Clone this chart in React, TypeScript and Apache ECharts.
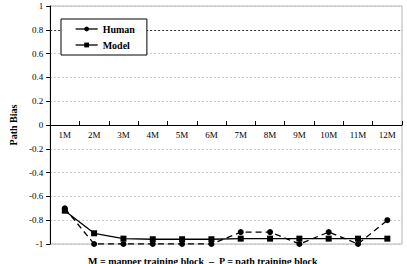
import React, { useEffect, useRef } from "react";
import * as echarts from "echarts";

const categories = ["1M", "2M", "3M", "4M", "5M", "6M", "7M", "8M", "9M", "10M", "11M", "12M"];
const humanValues = [-0.7, -1.0, -1.0, -1.0, -1.0, -1.0, -0.9, -0.9, -1.0, -0.9, -1.0, -0.8];
const modelValues = [-0.72, -0.91, -0.955, -0.96, -0.96, -0.96, -0.955, -0.955, -0.955, -0.955, -0.955, -0.955];
const referenceLine = 0.8;
const footnote = "M = mapper training block  \u2013  P = path training block";

const FONT = "Liberation Serif, Times New Roman, serif";
const PLOT_TOP = 6;
const PLOT_BOTTOM = 20;
const PLOT_H = 264 - PLOT_TOP - PLOT_BOTTOM;

export default function App() {
  const ref = useRef<HTMLDivElement>(null);
  useEffect(() => {
    if (!ref.current) return;
    const chart = echarts.init(ref.current, null, { renderer: "svg" });
    chart.setOption({
      animation: false,
      backgroundColor: "#fff",
      textStyle: { fontFamily: FONT },
      grid: {
        left: 35,
        right: 5,
        top: PLOT_TOP,
        bottom: PLOT_BOTTOM,
        show: true,
        borderColor: "#b0b0b0",
        borderWidth: 1,
      },
      legend: {
        orient: "vertical",
        left: 61,
        top: 19,
        z: 20,
        padding: [5, 12, 5, 14],
        itemGap: 6,
        itemWidth: 22,
        itemHeight: 6,
        backgroundColor: "#fff",
        borderColor: "#000",
        borderWidth: 1,
        textStyle: { fontFamily: FONT, fontWeight: "bold", fontSize: 10, color: "#000", padding: [0, 10, 0, 0] },
        data: [
          { name: "Human", lineStyle: { type: "solid", width: 1.3, color: "#000" } },
          { name: "Model", lineStyle: { type: "solid", width: 1.3, color: "#000" } },
        ],
      },
      xAxis: {
        type: "category",
        data: categories,
        boundaryGap: true,
        position: "bottom",
        offset: -PLOT_H / 2,
        axisLine: { onZero: false, lineStyle: { color: "#000", width: 1 } },
        axisTick: { show: true, inside: true, length: 4, lineStyle: { color: "#000" } },
        axisLabel: { color: "#000", fontFamily: FONT, fontSize: 9, margin: 5 },
        splitLine: { show: false },
      },
      yAxis: {
        type: "value",
        min: -1,
        max: 1,
        interval: 0.2,
        name: "Path Bias",
        nameLocation: "middle",
        nameRotate: 90,
        nameGap: 25,
        nameTextStyle: { fontFamily: FONT, fontWeight: "bold", fontSize: 10, color: "#000" },
        axisLine: { show: true, lineStyle: { color: "#000", width: 1 } },
        axisTick: { show: true, length: 4, lineStyle: { color: "#000" } },
        axisLabel: {
          color: "#000",
          fontFamily: FONT,
          fontSize: 9,
          margin: 7,
          formatter: (v: number) => String(Math.round(v * 10) / 10),
        },
        splitLine: { show: true, lineStyle: { color: "#c8c8c8", type: [2, 2], width: 1 } },
      },
      series: [
        {
          name: "Human",
          type: "line",
          data: humanValues,
          symbol: "circle",
          symbolSize: 6,
          itemStyle: { color: "#000" },
          lineStyle: { color: "#000", width: 1.3, type: [6, 4] },
          markLine: {
            silent: true,
            symbol: "none",
            z: 1,
            label: { show: false },
            lineStyle: { color: "#333", type: [2, 2], width: 1 },
            data: [{ yAxis: referenceLine }],
          },
          z: 3,
        },
        {
          name: "Model",
          type: "line",
          data: modelValues,
          symbol: "rect",
          symbolSize: 6,
          itemStyle: { color: "#000" },
          lineStyle: { color: "#000", width: 1.3, type: "solid" },
          z: 2,
        },
      ],
      graphic: [
        {
          type: "text",
          left: 88,
          top: 256,
          style: {
            text: footnote,
            fill: "#000",
            font: "bold 10px " + FONT,
          },
        },
      ],
    });
    return () => chart.dispose();
  }, []);
  return <div ref={ref} style={{ width: 407, height: 264, position: "fixed", left: 0, top: 0 }} />;
}
